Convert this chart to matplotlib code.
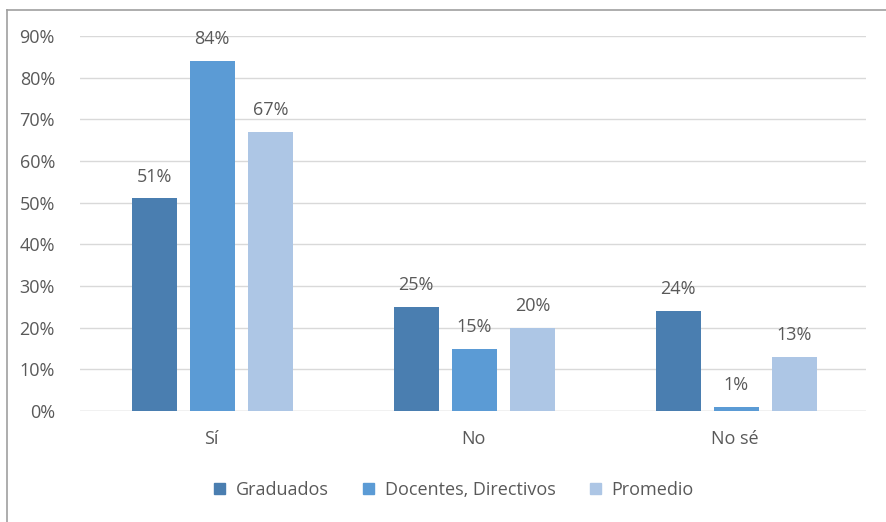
import matplotlib
matplotlib.use("Agg")
import matplotlib.pyplot as plt
import numpy as np
from matplotlib.lines import Line2D

categories = ["Sí", "No", "No sé"]
series_names = ["Graduados", "Docentes, Directivos", "Promedio"]
graduados = [51, 25, 24]
docentes = [84, 15, 1]
promedio = [67, 20, 13]
colors = ["#4a7eb0", "#5b9bd5", "#adc6e5"]
yticks = [0, 10, 20, 30, 40, 50, 60, 70, 80, 90]

plt.rcParams['font.family'] = ['Open Sans', 'DejaVu Sans']
text_color = "#595959"
fs = 13

fig = plt.figure(figsize=(8.86, 5.22), dpi=100)
ax = fig.add_axes([80/886, 1-411/522, (866-80)/886, (411-36)/522])

x = np.arange(len(categories))
width = 0.172
step = 0.222
data = [graduados, docentes, promedio]
for i, (vals, name, c) in enumerate(zip(data, series_names, colors)):
    pos = x + (i-1)*step + 0.005
    ax.bar(pos, vals, width=width, color=c, label=name, zorder=3)
    for p, v in zip(pos, vals):
        ax.annotate(f"{v}%", (p, v), xytext=(0, 9), textcoords="offset points",
                    ha="center", va="bottom", fontsize=fs, color=text_color)

ax.set_xlim(-0.5, 2.5)
ax.set_ylim(0, 90)
ax.set_yticks(yticks)
ax.set_yticklabels([f"{t}%" for t in yticks], fontsize=fs, color=text_color)
ax.set_xticks(x)
ax.set_xticklabels(categories, fontsize=fs, color=text_color)
ax.tick_params(axis='y', length=0, pad=18)
ax.tick_params(axis='x', length=0, pad=14)
ax.grid(axis='y', color="#d9d9d9", linewidth=1, zorder=0)
for s in ax.spines.values():
    s.set_visible(False)
ax.axhline(0, color="#d9d9d9", linewidth=1, zorder=2)

handles = [plt.Rectangle((0, 0), 1, 1, color=c) for c in colors]
fig.legend(handles, series_names, loc="center", bbox_to_anchor=(454/886, 1-490/522),
           ncol=3, frameon=False, fontsize=fs, labelcolor=text_color,
           handlelength=0.6, handleheight=0.6, handletextpad=0.6, columnspacing=1.9)

fig.add_artist(Line2D([7/886, 7/886], [0, 1-10/522], color="#a0a0a0", linewidth=1.2))
fig.add_artist(Line2D([7/886, 1], [1-10/522, 1-10/522], color="#a0a0a0", linewidth=1.2))

fig.savefig("out.png", dpi=100)
